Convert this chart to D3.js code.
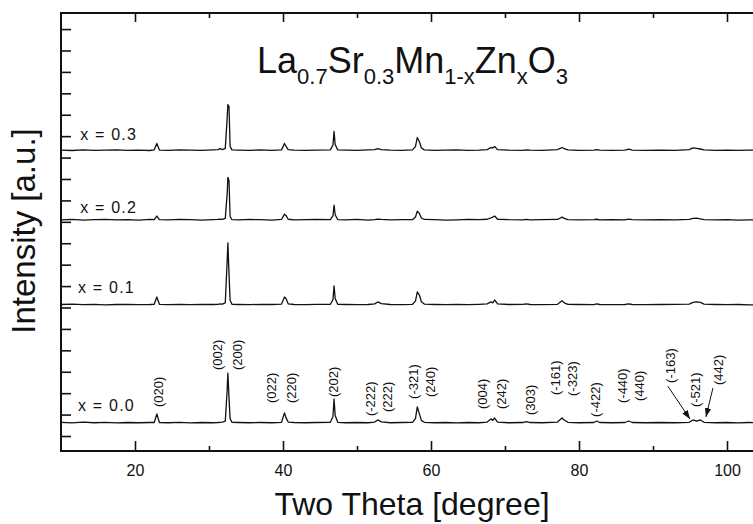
<!DOCTYPE html>
<html><head><meta charset="utf-8">
<script src="https://cdn.jsdelivr.net/npm/d3@7"></script>
<style>
body{margin:0;background:#fff}
svg{display:block}
text{font-family:"Liberation Sans",Arial,Helvetica,sans-serif;fill:#111}
</style>
</head><body>
<svg id="chart" width="753" height="524"></svg>
<script>
// ---------------- data ----------------
const twoTheta = [10,11.5,13,14.5,16,17.5,19,20.5,22,22.6,22.95,23.3,24.5,26,27.5,29,30.5,31.2,31.5,31.8,
  32.2,32.45,32.55,32.7,32.85,33.1,34,35.5,37,38.5,39.8,40.2,40.4,40.7,41.5,43,44.5,46.4,46.75,46.9,
  47.05,47.4,48.5,50,51.5,52.4,52.8,53.3,54.5,56,57.5,57.9,58.15,58.45,58.7,59.1,60.5,62,63.5,65,
  66.5,67.6,68.1,68.35,68.6,69.0,70.5,72.4,72.9,73.4,75,77.1,77.7,78.0,78.5,80,82.0,82.4,82.8,84.5,
  86.2,86.7,87.2,89,91,93,94.9,95.4,95.9,96.4,96.9,98.5,100,101.5,103,105];

const seriesNames = ["x = 0.0", "x = 0.1", "x = 0.2", "x = 0.3"];
const seriesOffsets = [61, 612, 1008, 1333];

const intensityX00 = [3,0,4,1,3,0,2,1,2,2,42,2,1,3,0,2,1,2,3,4,
  8,150,233,120,20,3,2,1,2,1,3,47,25,4,2,1,2,3,30,112,
  35,3,1,2,1,4,14,5,1,2,3,20,75,40,12,3,1,2,0,2,
  1,4,19,12,23,4,1,2,6,2,1,4,23,14,3,1,2,9,2,1,
  2,9,2,1,2,1,3,14,8,14,3,1,2,0,2,1];
const intensityX01 = [2,4,1,3,0,2,3,1,2,3,37,3,1,2,1,3,2,3,5,4,
  10,200,290,150,22,3,2,1,3,2,4,37,30,5,2,1,3,3,25,89,
  30,3,2,1,2,5,14,6,2,1,3,18,61,45,15,4,2,1,2,1,
  3,5,14,10,23,5,2,3,5,2,1,3,19,10,3,2,1,5,2,1,
  2,5,2,1,2,3,4,12,14,12,4,2,1,2,0,2];
const intensityX02 = [1,3,0,2,3,1,2,0,3,2,19,2,1,3,2,0,2,3,4,3,
  8,120,200,185,18,2,1,3,2,0,3,28,22,4,1,2,3,2,20,70,
  25,2,1,3,0,2,5,3,1,2,2,14,42,30,10,3,2,0,1,3,
  2,4,10,14,19,4,2,1,3,1,2,3,14,8,2,1,2,4,1,2,
  1,5,2,1,2,1,3,8,9,6,2,1,2,0,1,2];
const intensityX03 = [2,0,3,1,2,3,1,2,0,3,33,2,1,3,2,1,3,4,9,4,
  10,150,215,205,20,3,2,1,3,1,3,33,20,4,2,1,2,3,25,89,
  28,3,2,1,3,4,9,4,2,1,3,18,61,40,12,3,1,2,3,1,
  2,4,14,12,19,4,2,1,3,2,1,4,14,9,3,1,2,4,2,1,
  2,7,2,1,2,1,4,12,10,7,3,1,2,1,2,1];

const xMajorTicks = [20, 40, 60, 80, 100];
const xMinorTicks = [30, 50, 70, 90];
const yTicks = [0,100,200,300,400,500,600,700,800,900,1000,1100,1200,1300,1400,1500,1600,1700,1800,1900];

const hklLabels = ["(020)","(002)","(200)","(022)","(220)","(202)","(-222)","(222)","(-321)","(240)",
  "(004)","(242)","(303)","(-161)","(-323)","(-422)","(-440)","(440)","(-163)","(-521)","(442)"];
const hklTheta = [23.1,31.1,33.8,38.5,41.2,46.8,51.8,54.1,57.6,59.9,
  67.0,69.5,73.4,76.8,79.1,82.2,85.9,88.2,92.4,95.8,98.9];
const hklLevel = [135,308,308,154,154,182,93,112,173,182,
  126,126,98,191,187,89,154,163,248,135,238];

const arrowFrom = [[92.0, 233], [98.1, 224]];
const arrowTo = [[95.0, 79], [97.15, 89]];

// ---------------- chart ----------------
const svg = d3.select("#chart");
const x = d3.scaleLinear().domain([10, 105]).range([61, 764]);
const y = d3.scaleLinear().domain([-70, 1975]).range([451, 13]);

const intensities = [intensityX00, intensityX01, intensityX02, intensityX03];

const line = d3.line().x(d => x(d[0])).y(d => y(d[1]));

intensities.forEach((arr, i) => {
  const pts = twoTheta.map((t, k) => [t, arr[k] + seriesOffsets[i]]);
  svg.append("path").datum(pts)
    .attr("d", line)
    .attr("fill", "none")
    .attr("stroke", "#111")
    .attr("stroke-width", 1.3)
    .attr("stroke-linejoin", "round");
});

// axes (ticks inward)
function styleAxis(g) {
  g.select(".domain").remove();
  g.selectAll(".tick line").attr("stroke", "#111").attr("stroke-width", 1.6);
}
svg.append("g").attr("transform", "translate(0,451)")
  .call(d3.axisBottom(x).tickValues(xMajorTicks).tickSize(-10).tickPadding(14).tickFormat(d3.format("d")))
  .call(styleAxis)
  .call(g => g.selectAll(".tick text").attr("font-size", 16).attr("fill", "#111")
      .attr("font-family", '"Liberation Sans",Arial,sans-serif'));
svg.append("g").attr("transform", "translate(0,451)")
  .call(d3.axisBottom(x).tickValues(xMinorTicks).tickSize(-5).tickFormat(""))
  .call(styleAxis);
svg.append("g").attr("transform", "translate(0,13)")
  .call(d3.axisTop(x).tickValues(xMajorTicks).tickSize(-9).tickFormat(""))
  .call(styleAxis);
svg.append("g").attr("transform", "translate(0,13)")
  .call(d3.axisTop(x).tickValues(xMinorTicks).tickSize(-5).tickFormat(""))
  .call(styleAxis);
svg.append("g").attr("transform", "translate(61,0)")
  .call(d3.axisLeft(y).tickValues(yTicks).tickSize(-10).tickFormat(""))
  .call(styleAxis);

// frame
svg.append("rect")
  .attr("x", x(10)).attr("y", y(1975))
  .attr("width", x(105) - x(10)).attr("height", y(-70) - y(1975))
  .attr("fill", "none").attr("stroke", "#111").attr("stroke-width", 2);

// series labels
const labelGap = [12, 12, 7, 11];
const labelTheta = [12.3, 12.3, 12.6, 12.6];
seriesNames.forEach((s, i) => {
  svg.append("text")
    .attr("x", x(labelTheta[i]))
    .attr("y", y(seriesOffsets[i]) - labelGap[i])
    .attr("font-size", 16)
    .attr("letter-spacing", 1.2)
    .text(s);
});

// hkl labels
hklLabels.forEach((s, i) => {
  svg.append("text")
    .attr("transform", `translate(${x(hklTheta[i])},${y(hklLevel[i])}) rotate(-90)`)
    .attr("dy", "0.35em")
    .attr("font-size", 13)
    .text(s);
});

// arrows
svg.append("defs").append("marker")
  .attr("id", "ah").attr("viewBox", "0 0 10 10").attr("refX", 10).attr("refY", 5)
  .attr("markerWidth", 9).attr("markerHeight", 9).attr("markerUnits", "userSpaceOnUse")
  .attr("orient", "auto")
  .append("path").attr("d", "M0,1.5 L10,5 L0,8.5 Z").attr("fill", "#111");
arrowFrom.forEach((f, i) => {
  svg.append("line")
    .attr("x1", x(f[0])).attr("y1", y(f[1]))
    .attr("x2", x(arrowTo[i][0])).attr("y2", y(arrowTo[i][1]))
    .attr("stroke", "#111").attr("stroke-width", 1)
    .attr("marker-end", "url(#ah)");
});

// title
const title = svg.append("text").attr("x", 257).attr("y", 73).attr("font-size", 36);
const parts = [["La",0],["0.7",1],["Sr",0],["0.3",1],["Mn",0],["1-x",1],["Zn",0],["x",1],["O",0],["3",1]];
let sub = false;
parts.forEach(([t, s]) => {
  const ts = title.append("tspan").text(t);
  if (s) { ts.attr("font-size", 22).attr("dy", sub ? 0 : 10.5); sub = true; }
  else { ts.attr("dy", sub ? -10.5 : 0); sub = false; }
});

// axis titles
svg.append("text").attr("x", 412).attr("y", 515).attr("text-anchor", "middle")
  .attr("font-size", 32).text("Two Theta [degree]");
svg.append("text").attr("transform", "translate(35,231) rotate(-90)")
  .attr("text-anchor", "middle").attr("font-size", 33).text("Intensity [a.u.]");
</script>
</body></html>
